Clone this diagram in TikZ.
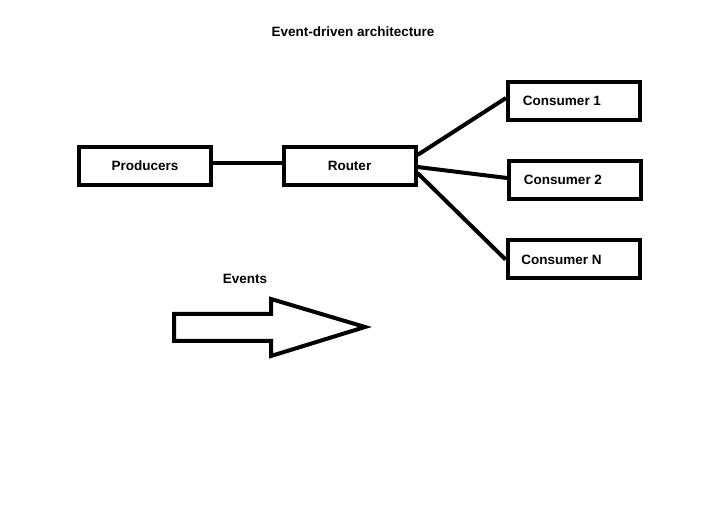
\documentclass[tikz,border=0pt]{standalone}
\usepackage{fontspec}
\setmainfont{Liberation Sans}
\begin{document}
\begin{tikzpicture}[x=1pt,y=1pt,
  box/.style={draw=black, line width=4pt, minimum width=132pt, minimum height=38pt, inner sep=0pt, font=\fontsize{13.5}{15}\selectfont\bfseries},
  link/.style={line width=4pt},
  lbl/.style={font=\fontsize{13.5}{15}\selectfont\bfseries, inner sep=0pt}]
\useasboundingbox (0,0) rectangle (717,527);
\fill[white] (0,0) rectangle (717,527);
\node[lbl] (title) at (353,495) {Event-driven architecture};
\node[box] (prod) at (145,361) {Producers};
\node[box] (router) at (349.5,361) {Router};
\node[box] (c1) at (574,426) {Consumer 1\hspace*{24pt}};
\node[box] (c2) at (575,347) {Consumer 2\hspace*{24pt}};
\node[box] (cn) at (573.5,267.5) {Consumer N\hspace*{24pt}};
\draw[link] ([yshift=3pt]prod.east) -- ([yshift=3pt]router.west);
\draw[link] ([yshift=11pt]router.east) -- ([yshift=3pt]c1.west);
\draw[link] ([yshift=-1pt]router.east) -- ([yshift=2pt]c2.west);
\draw[link] ([yshift=-7pt]router.east) -- ([yshift=0pt]cn.west);
\node[lbl] (events) at (245,248) {Events};
\draw[line width=4pt, line join=miter]
  (174,213) -- (271,213) -- (271,228) -- (365,200) -- (271,171) -- (271,186) -- (174,186) -- cycle;
\end{tikzpicture}
\end{document}
